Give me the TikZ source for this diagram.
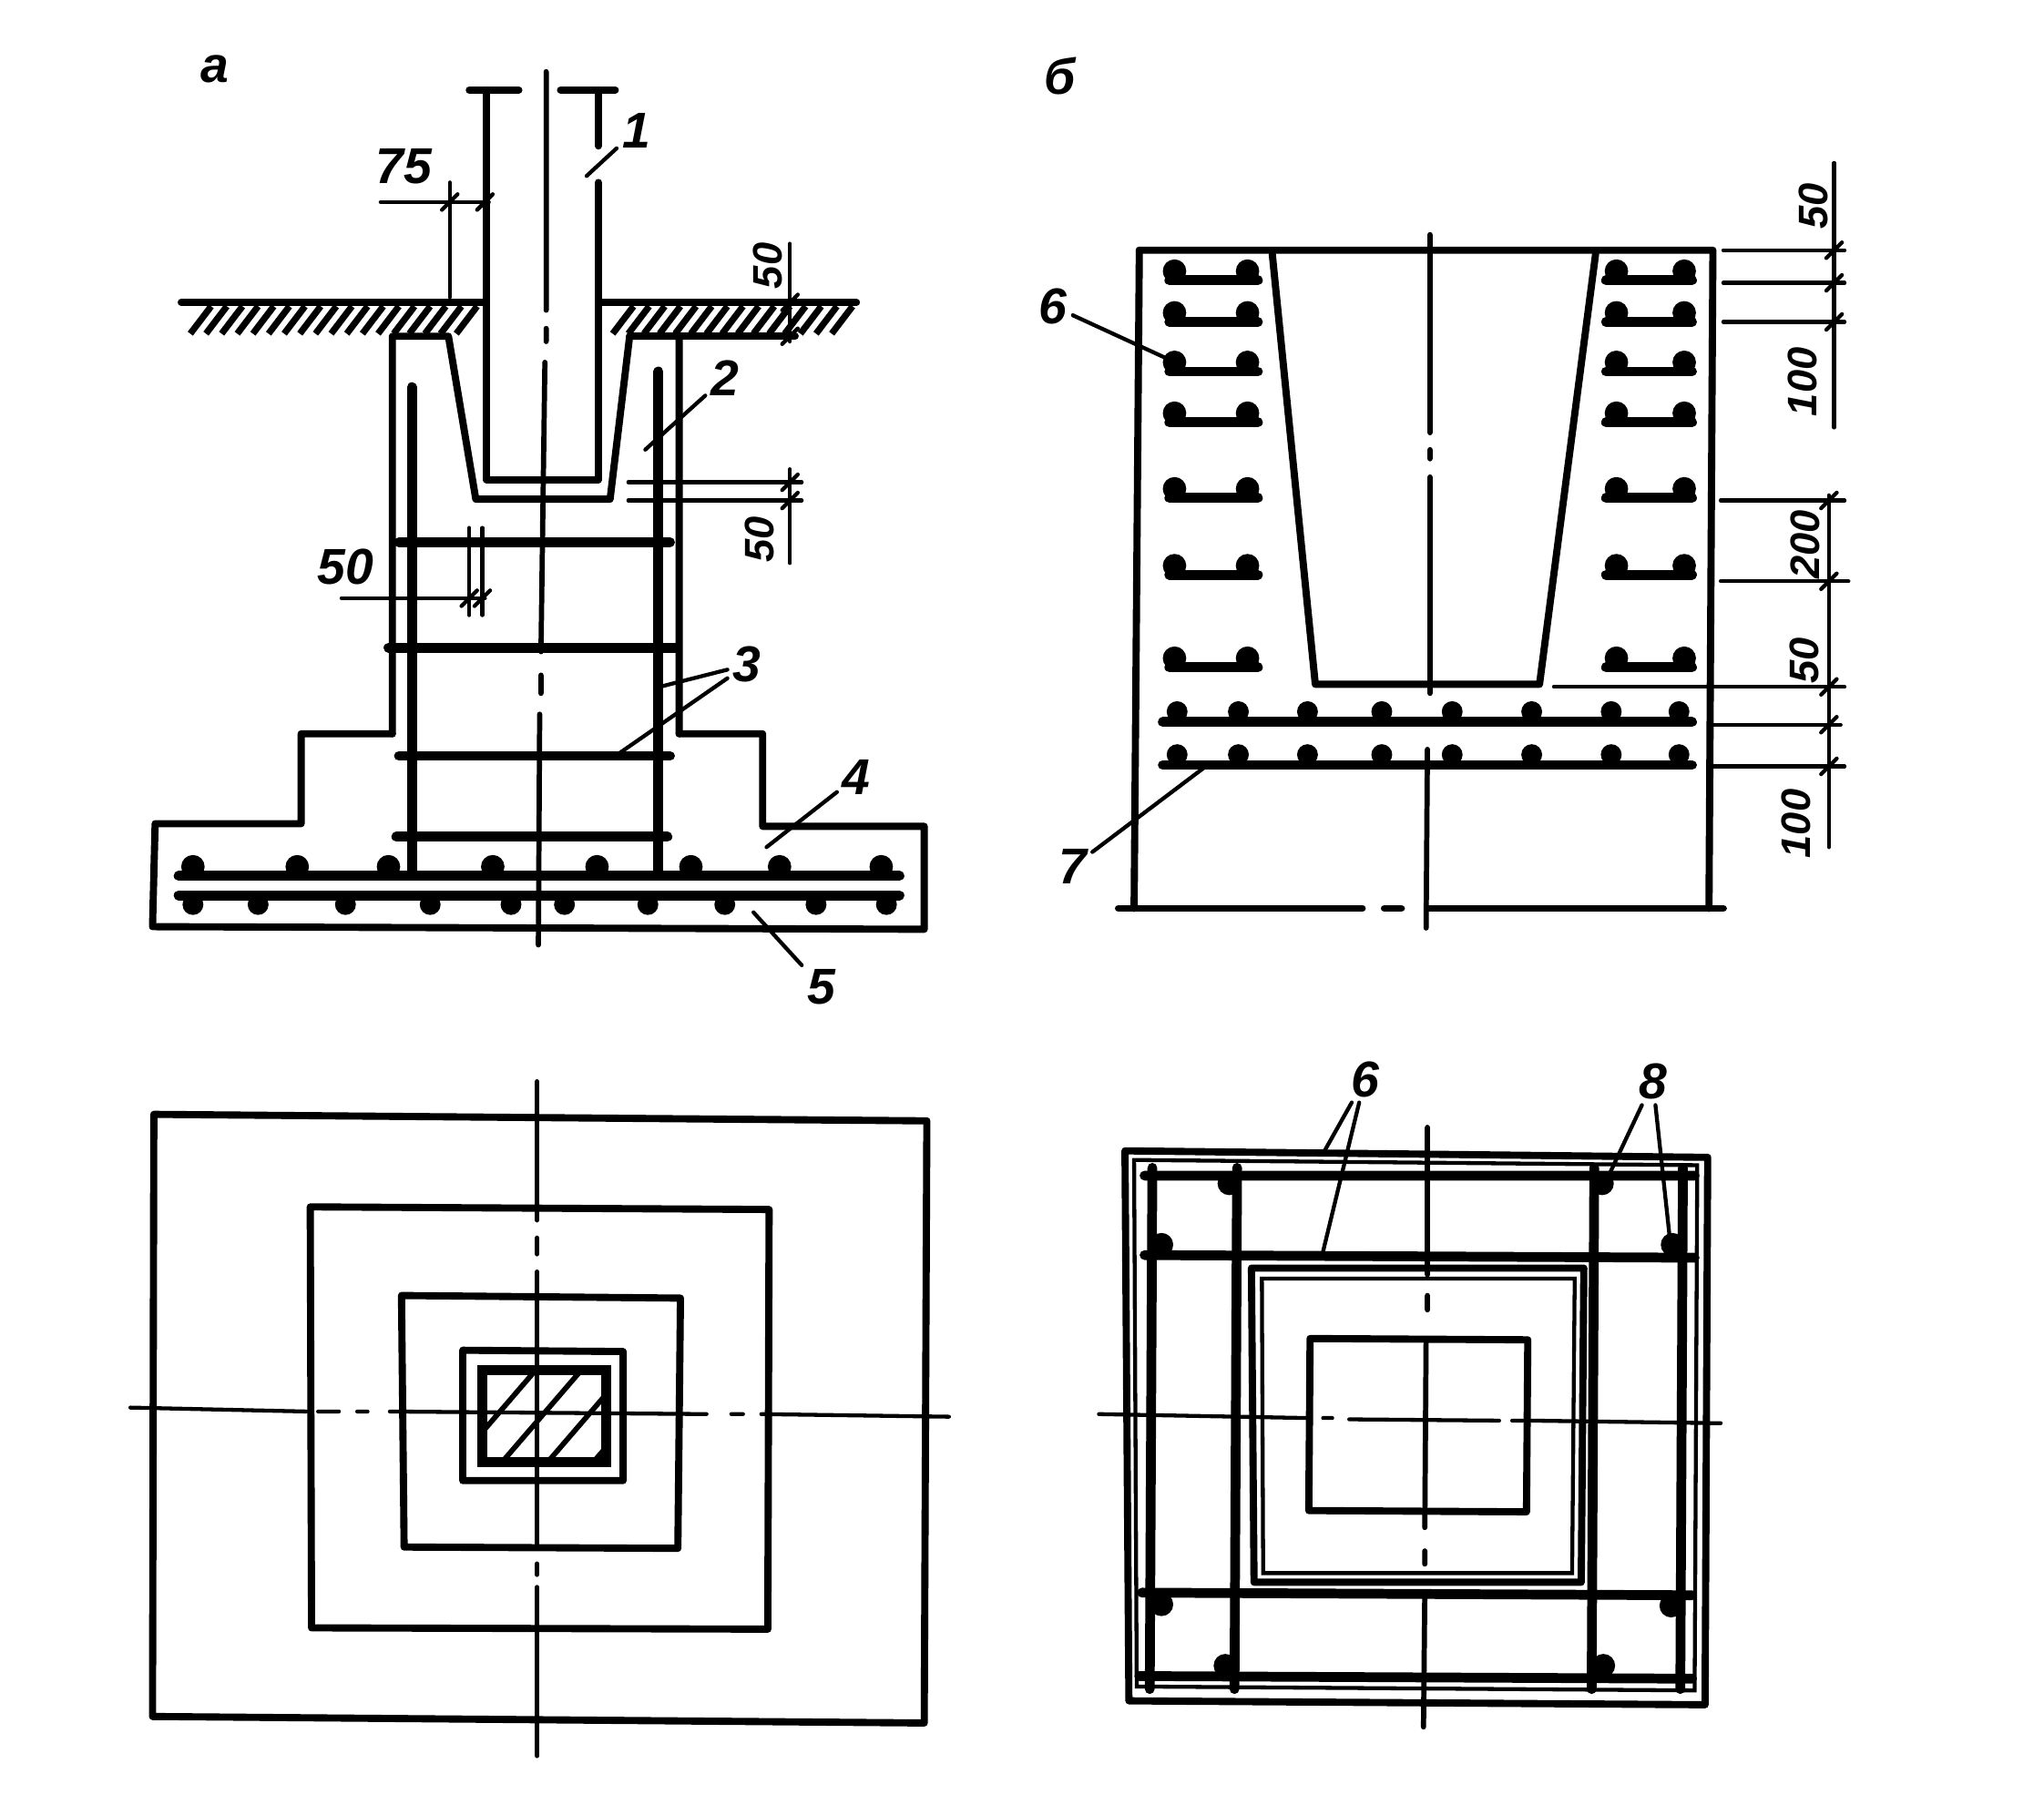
\documentclass[tikz,border=0pt]{standalone}
\usepackage{fontspec}
\setmainfont{Liberation Sans}
\tikzset{
    obj/.style={line width=.55mm, line cap=round, line join=round},
    bar/.style={line width=.75mm, line cap=round},
    thin line/.style={line width=.3mm, line cap=round},
    axis line/.style={line width=.4mm, line cap=round},
    lab/.style={inner sep=1pt, font=\fontsize{11}{14}\selectfont\bfseries\itshape},
    dim/.style={inner sep=0pt, font=\fontsize{9}{11}\selectfont\bfseries\itshape, rotate=90}
}
\begin{document}
\begin{tikzpicture}[x=.1mm,y=-.1mm]
    \useasboundingbox (0,0) rectangle (1568,1392);
    \node[lab] (capA) at (165,53) {а};
    \node[lab] (capB) at (813,58) {б};
    \draw[obj] (360,69) -- (398,69) (430,69) -- (472,69);
    \draw[obj] (373,69) -- (373,368) -- (459,368) -- (459,140);
    \draw[obj] (459,69) -- (459,112);
    \draw[obj] (139,232) -- (372,232) (462,232) -- (657,232);
    \foreach \x in {146,158,...,356,470,482,...,640}
        \draw[line width=.5mm] (\x,256) -- (\x+16,235);
    \draw[obj] (301,563) -- (301,258) -- (344,258) -- (365,383) -- (468,383) -- (483,258) -- (521,258) -- (521,563);
    \draw[obj] (483,258) -- (610,258);
    \draw[obj] (301,563) -- (231,563) -- (231,632) -- (119,632) -- (117,711) -- (709,713) -- (709,634) -- (585,634) -- (585,563) -- (521,563);
    \draw[bar] (316,297) -- (316,668) (505,285) -- (505,668);
    \draw[bar] (306,416) -- (514,416) (298,497) -- (518,497) (306,580) -- (514,580) (304,642) -- (512,642);
    \draw[bar] (137,672) -- (690,672) (137,687) -- (690,687);
    \foreach \x in {148,228,298,378,458,530,598,676}
        \fill (\x,665) circle (9);
    \foreach \x in {148,198,265,330,392,433,497,556,626,680}
        \fill (\x,694) circle (8);
    \draw[axis line] (419,55) -- (419,238) (419,252) -- (419,262) (418,278) -- (415,500) (415,518) -- (415,532) (414,548) -- (413,725);
    \draw[thin line] (292,155) -- (375,155) (345,140) -- (345,228);
    \draw[thin line] (606,187) -- (606,262);
    \draw[thin line] (482,370) -- (615,370) (482,384) -- (615,384) (606,360) -- (606,432);
    \draw[thin line] (360,405) -- (360,472) (370,405) -- (370,472) (262,459) -- (372,459);
    \foreach \x/\y in {345/155,372/155,606/232,606/258,606/370,606/384,360/459,370/459}
        \draw[thin line] (\x-6,\y+6) -- (\x+6,\y-6);
    \node[lab] (d75) at (310,128) {75};
    \node[dim] (d50a) at (589,204) {50};
    \node[dim] (d50b) at (583,414) {50};
    \node[lab] (d50c) at (265,435) {50};
    \node[lab] (n1) at (488,100) {1};
    \node[lab] (n2) at (556,290) {2};
    \node[lab] (n3) at (573,510) {3};
    \node[lab] (n4) at (657,596) {4};
    \node[lab] (n5) at (630,757) {5};
    \coordinate (p1) at (450,135);
    \coordinate (p2) at (495,345);
    \coordinate (p3a) at (506,527);
    \coordinate (p3b) at (475,578);
    \coordinate (p4) at (588,650);
    \coordinate (p5) at (578,700);
    \path[thin line]
      (n1) edge (p1)
      (n2) edge (p2)
      (n3) edge (p3a)
      (n3) edge (p3b)
      (n4) edge (p4)
      (n5) edge (p5);
    \draw[obj] (874,192) -- (1314,192) -- (1311,697);
    \draw[obj] (874,192) -- (870,697);
    \draw[obj] (858,697) -- (1045,697) (1062,697) -- (1075,697) (1095,697) -- (1322,697);
    \draw[obj] (976,195) -- (1009,525) -- (1181,525) -- (1224,195);
    \draw[axis line] (1097,180) -- (1097,332) (1097,345) -- (1097,352) (1097,366) -- (1097,532) (1095,575) -- (1094,712);
    \foreach \y in {215,247,285,324,382,441,512} {
        \draw[bar] (897,\y) -- (965,\y);
        \draw[bar] (1232,\y) -- (1298,\y);
        \fill (901,\y-7) circle (9);
        \fill (957,\y-7) circle (9);
        \fill (1240,\y-7) circle (9);
        \fill (1292,\y-7) circle (9);
    }
    \draw[bar] (892,554) -- (1298,554) (892,587) -- (1298,587);
    \foreach \x in {903,950,1003,1060,1114,1175,1236,1288} {
        \fill (\x,546) circle (8);
        \fill (\x,579) circle (8);
    }
    \draw[thin line] (1407,125) -- (1407,328) (1403,380) -- (1403,650);
    \draw[thin line] (1322,192) -- (1415,192) (1322,217) -- (1415,217) (1322,247) -- (1415,247);
    \draw[thin line] (1320,384) -- (1415,384) (1320,446) -- (1418,446) (1192,527) -- (1415,527) (1312,556) -- (1412,556) (1312,588) -- (1415,588);
    \foreach \x/\y in {1407/192,1407/217,1407/247,1403/384,1403/446,1403/527,1403/556,1403/588}
        \draw[thin line] (\x-6,\y+6) -- (\x+6,\y-6);
    \node[dim] (e50a) at (1391,158) {50};
    \node[dim] (e100a) at (1383,293) {100};
    \node[dim] (e200) at (1385,418) {200};
    \node[dim] (e50b) at (1384,507) {50};
    \node[dim] (e100b) at (1378,632) {100};
    \node[lab] (n6) at (808,235) {6};
    \node[lab] (n7) at (823,665) {7};
    \coordinate (p6) at (895,275);
    \coordinate (p7) at (925,588);
    \path[thin line]
      (n6) edge (p6)
      (n7) edge (p7);
    \draw[obj] (118,855) -- (711,860) -- (709,1322) -- (117,1317) -- cycle;
    \draw[obj] (238,926) -- (590,928) -- (589,1250) -- (239,1249) -- cycle;
    \draw[obj] (308,994) -- (522,996) -- (520,1188) -- (310,1187) -- cycle;
    \draw[obj] (355,1036) -- (478,1037) -- (478,1136) -- (355,1136) -- cycle;
    \begin{scope}
        \clip (372,1053) rectangle (463,1120);
        \foreach \x in {350,385,...,500}
            \draw[line width=.4mm] (\x,1122) -- (\x+62,1050);
    \end{scope}
    \draw[bar] (370,1051) -- (465,1051) -- (465,1122) -- (370,1122) -- cycle;
    \draw[axis line] (412,830) -- (412,936) (412,950) -- (412,962) (412,976) -- (412,1188) (412,1200) -- (412,1208) (412,1218) -- (412,1347);
    \draw[thin line] (100,1080) -- (235,1083) (244,1083) -- (260,1083) (274,1083) -- (282,1083) (299,1083) -- (542,1085) (561,1085) -- (570,1085) (584,1085) -- (728,1087);
    \draw[obj] (863,883) -- (1310,888) -- (1308,1308) -- (866,1305) -- cycle;
    \draw[thin line] (870,890) -- (1302,894) -- (1300,1297) -- (872,1294) -- cycle;
    \draw[bar] (878,902) -- (1300,902) (878,963) -- (1300,965) (876,1222) -- (1298,1224) (874,1286) -- (1298,1288);
    \draw[bar] (884,896) -- (882,1296) (949,896) -- (947,1296) (1223,896) -- (1221,1296) (1291,896) -- (1289,1296);
    \foreach \x/\y in {943/908,1229/908,891/955,1283/955,891/1231,1282/1232,940/1278,1230/1278}
        \fill (\x,\y) circle (9);
    \draw[obj] (960,973) -- (1215,973) -- (1213,1214) -- (962,1214) -- cycle;
    \draw[thin line] (968,981) -- (1208,981) -- (1206,1207) -- (969,1207) -- cycle;
    \draw[obj] (1005,1027) -- (1172,1028) -- (1171,1160) -- (1004,1159) -- cycle;
    \draw[axis line] (1095,865) -- (1095,978) (1095,994) -- (1095,1005) (1094,1027) -- (1093,1172) (1093,1190) -- (1093,1200) (1093,1222) -- (1092,1325);
    \draw[thin line] (843,1085) -- (1002,1088) (1015,1088) -- (1022,1088) (1035,1089) -- (1150,1090) (1160,1090) -- (1168,1090) (1175,1090) -- (1320,1092);
    \node[lab] (n6b) at (1047,828) {6};
    \node[lab] (n8) at (1268,830) {8};
    \coordinate (p6a) at (1015,885);
    \coordinate (p6b) at (1015,960);
    \coordinate (p8a) at (1235,900);
    \coordinate (p8b) at (1282,960);
    \path[thin line]
      (n6b) edge (p6a)
      (n6b) edge (p6b)
      (n8) edge (p8a)
      (n8) edge (p8b);
\end{tikzpicture}
\end{document}
